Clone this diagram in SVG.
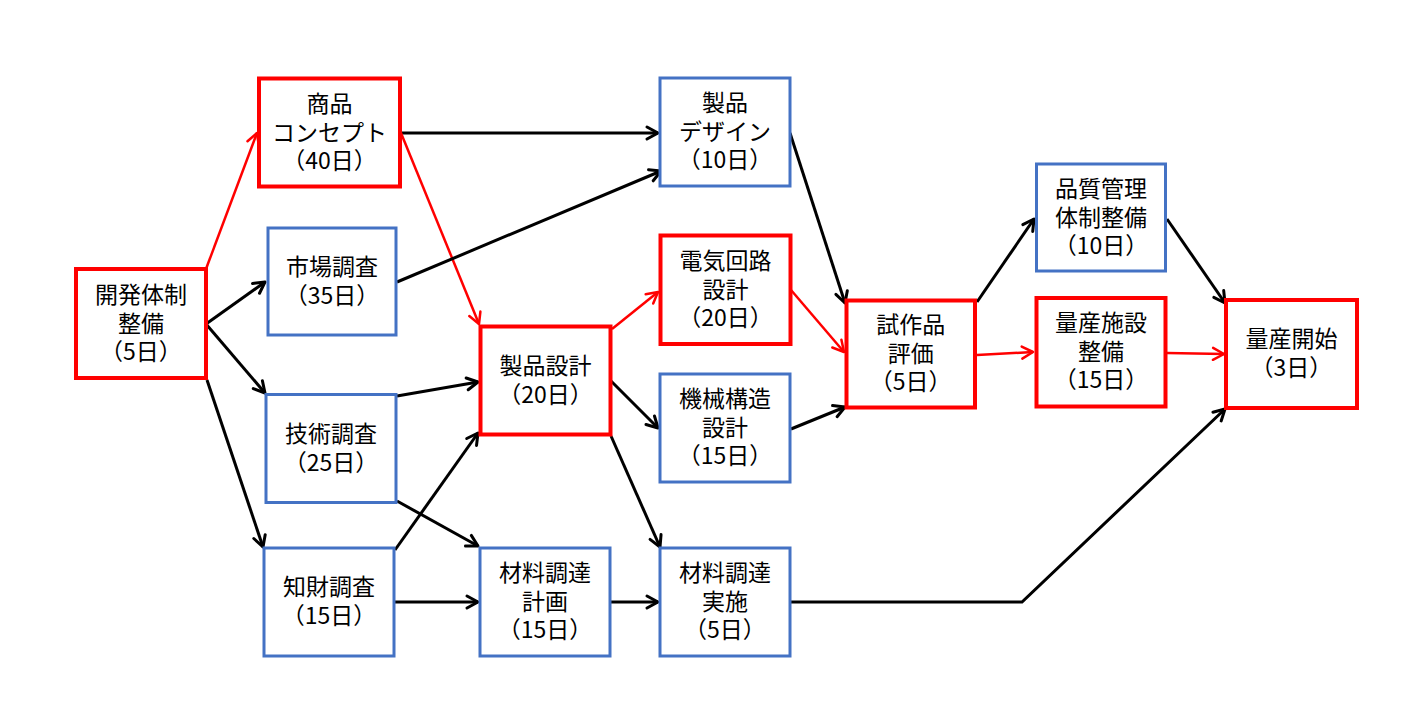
<svg xmlns="http://www.w3.org/2000/svg" width="1410" height="720" viewBox="0 0 1410 720">
<defs>
<style>
.r{fill:#fff;stroke:#FF0000;stroke-width:4}
.b{fill:#fff;stroke:#4472C4;stroke-width:3}
text{font-family:"Noto Sans CJK JP","Noto Sans",sans-serif;font-size:23px;fill:#000;text-anchor:middle}
.ck{fill:none;stroke:#000;stroke-width:3}
.cr{fill:none;stroke:#FF0000;stroke-width:2.5}
</style>
<marker id="ak" markerUnits="userSpaceOnUse" markerWidth="16" markerHeight="16" viewBox="0 0 16 16" refX="13" refY="8" orient="auto" style="overflow:visible">
<path d="M2,2 L13,8 L2,14" fill="none" stroke="#000" stroke-width="3" stroke-linejoin="round" stroke-linecap="round"/>
</marker>
<marker id="ar" markerUnits="userSpaceOnUse" markerWidth="16" markerHeight="16" viewBox="0 0 16 16" refX="13" refY="8" orient="auto" style="overflow:visible">
<path d="M2,2 L13,8 L2,14" fill="none" stroke="#FF0000" stroke-width="2.5" stroke-linejoin="round" stroke-linecap="round"/>
</marker>
</defs>
<rect width="1410" height="720" fill="#fff"/>

<g id="connectors">
<line class="cr" x1="206" y1="269" x2="257" y2="133" marker-end="url(#ar)"/>
<line class="ck" x1="206" y1="324" x2="265" y2="282" marker-end="url(#ak)"/>
<line class="ck" x1="206" y1="324" x2="265" y2="393" marker-end="url(#ak)"/>
<line class="ck" x1="207" y1="380" x2="263" y2="547" marker-end="url(#ak)"/>
<line class="ck" x1="400" y1="133" x2="658" y2="133" marker-end="url(#ak)"/>
<line class="cr" x1="401" y1="133" x2="479" y2="324" marker-end="url(#ar)"/>
<line class="ck" x1="397" y1="282" x2="661" y2="171" marker-end="url(#ak)"/>
<line class="ck" x1="397" y1="396" x2="478" y2="382" marker-end="url(#ak)"/>
<line class="ck" x1="397" y1="501" x2="478" y2="546" marker-end="url(#ak)"/>
<line class="ck" x1="395" y1="550" x2="478" y2="433" marker-end="url(#ak)"/>
<line class="ck" x1="395" y1="602" x2="478" y2="602" marker-end="url(#ak)"/>
<line class="cr" x1="612" y1="329" x2="658" y2="292" marker-end="url(#ar)"/>
<line class="ck" x1="611" y1="381" x2="658" y2="428" marker-end="url(#ak)"/>
<line class="ck" x1="611" y1="436" x2="660" y2="547" marker-end="url(#ak)"/>
<line class="ck" x1="611" y1="602" x2="658" y2="602" marker-end="url(#ak)"/>
<polyline class="ck" points="791,602 1022,602 1225,409" marker-end="url(#ak)"/>
<line class="ck" x1="790" y1="133" x2="845" y2="303" marker-end="url(#ak)"/>
<line class="cr" x1="791" y1="290" x2="844" y2="352" marker-end="url(#ar)"/>
<line class="ck" x1="791" y1="429" x2="845" y2="407" marker-end="url(#ak)"/>
<line class="ck" x1="977" y1="302" x2="1034" y2="219" marker-end="url(#ak)"/>
<line class="cr" x1="977" y1="355" x2="1033" y2="352" marker-end="url(#ar)"/>
<line class="ck" x1="1167" y1="219" x2="1225" y2="303" marker-end="url(#ak)"/>
<line class="cr" x1="1167" y1="353" x2="1224" y2="354" marker-end="url(#ar)"/>
</g>

<g id="n1"><rect class="r" x="76" y="269" width="130" height="109"/>
<text x="141" y="303">開発体制</text><text x="141" y="332">整備</text><text x="141" y="360">（5日）</text></g>

<g id="n2"><rect class="r" x="259" y="78.5" width="141" height="108"/>
<text x="329.5" y="112">商品</text><text x="329.5" y="141">コンセプト</text><text x="329.5" y="169">（40日）</text></g>

<g id="n3"><rect class="b" x="268" y="228" width="128" height="107"/>
<text x="332" y="275">市場調査</text><text x="332" y="304">（35日）</text></g>

<g id="n4"><rect class="b" x="266" y="394.5" width="130" height="108"/>
<text x="331" y="442">技術調査</text><text x="331" y="471">（25日）</text></g>

<g id="n5"><rect class="b" x="264" y="548" width="130" height="108"/>
<text x="329" y="595">知財調査</text><text x="329" y="624">（15日）</text></g>

<g id="n6"><rect class="r" x="480.5" y="326.5" width="130" height="108"/>
<text x="545.5" y="374">製品設計</text><text x="545.5" y="403">（20日）</text></g>

<g id="n7"><rect class="b" x="480" y="548" width="130" height="108"/>
<text x="545" y="581">材料調達</text><text x="545" y="610">計画</text><text x="545" y="638">（15日）</text></g>

<g id="n8"><rect class="b" x="660" y="78" width="130" height="108"/>
<text x="725" y="111">製品</text><text x="725" y="140">デザイン</text><text x="725" y="168">（10日）</text></g>

<g id="n9"><rect class="r" x="660.5" y="235.5" width="130" height="108.5"/>
<text x="725.5" y="269">電気回路</text><text x="725.5" y="298">設計</text><text x="725.5" y="326">（20日）</text></g>

<g id="n10"><rect class="b" x="660" y="374" width="130" height="108"/>
<text x="725" y="407">機械構造</text><text x="725" y="436">設計</text><text x="725" y="464">（15日）</text></g>

<g id="n11"><rect class="b" x="660" y="548" width="130" height="108"/>
<text x="725" y="581">材料調達</text><text x="725" y="610">実施</text><text x="725" y="638">（5日）</text></g>

<g id="n12"><rect class="r" x="846.5" y="300.5" width="128.5" height="107"/>
<text x="910.75" y="333">試作品</text><text x="910.75" y="362">評価</text><text x="910.75" y="390">（5日）</text></g>

<g id="n13"><rect class="b" x="1036.5" y="164" width="129" height="107"/>
<text x="1101" y="197">品質管理</text><text x="1101" y="226">体制整備</text><text x="1101" y="254">（10日）</text></g>

<g id="n14"><rect class="r" x="1036.5" y="298" width="129" height="108.5"/>
<text x="1101" y="331">量産施設</text><text x="1101" y="360">整備</text><text x="1101" y="388">（15日）</text></g>

<g id="n15"><rect class="r" x="1226" y="300" width="131" height="108"/>
<text x="1291.5" y="347">量産開始</text><text x="1291.5" y="376">（3日）</text></g>
</svg>
